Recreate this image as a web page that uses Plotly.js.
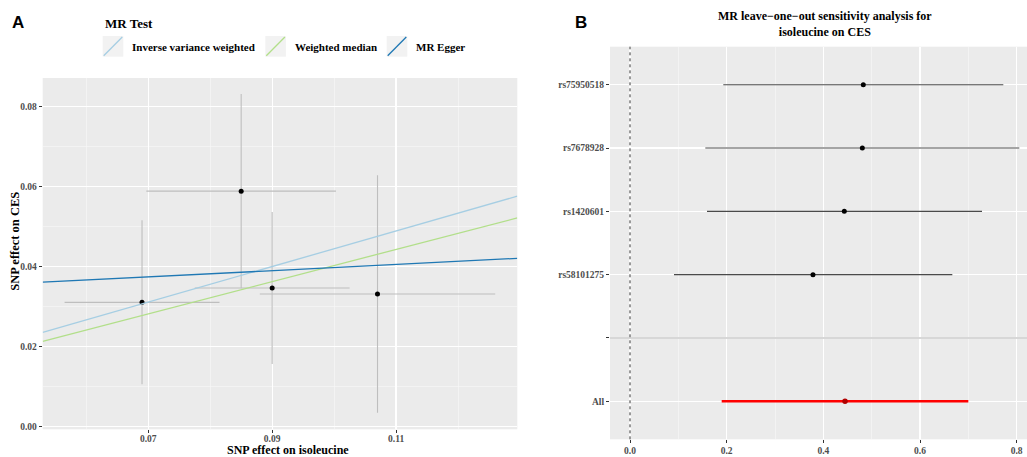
<!DOCTYPE html>
<html>
<head>
<meta charset="utf-8">
<script src="https://cdn.plot.ly/plotly-3.0.1.min.js"></script>
<style>html,body{margin:0;padding:0;background:#fff}#chart{width:1027px;height:457px}</style>
</head>
<body>
<div id="chart"></div>
<script>
// ---------- Panel A data: SNP effects ----------
const snpX   = [0.0690, 0.0850, 0.0900, 0.1070];   // SNP effect on isoleucine
const snpXse = [0.0125, 0.0153, 0.0125, 0.0190];
const snpY   = [0.0311, 0.0589, 0.0347, 0.0332];   // SNP effect on CES
const snpYse = [0.0205, 0.0243, 0.0190, 0.0297];

const methods         = ['Inverse variance weighted', 'Weighted median', 'MR Egger'];
const methodSlope     = [0.445, 0.403, 0.078];
const methodIntercept = [0, 0, 0.032];
const methodColors    = ['#A6CEE3', '#B2DF8A', '#1F78B4'];

// ---------- Panel B data: leave-one-out ----------
const looSNPs = ['rs75950518', 'rs7678928', 'rs1420601', 'rs58101275'];
const looB    = [0.4827, 0.4807, 0.4434, 0.3786];
const looLo   = [0.1930, 0.1558, 0.1593, 0.0910];
const looHi   = [0.7724, 0.8055, 0.7283, 0.6669];
const allLabel = 'All';
const allB  = 0.4449;
const allLo = 0.1897;
const allHi = 0.7000;
const rowLabels = looSNPs.concat(['', allLabel]);

// ---------- helpers ----------
const W = 1027, H = 457;
const px = v => v / W;
const py = v => 1 - v / H;
const SERIF = 'Liberation Serif, Times New Roman, serif';
const tickFont = {family: SERIF, size: 9.5, color: '#4D4D4D', weight: 'bold'};

const xRangeA = [0.05297, 0.12956];
const yRangeA = [-0.00065, 0.0872];

const traces = [];

// Panel A: error bars + points
traces.push({
  type: 'scatter', mode: 'markers', xaxis: 'x', yaxis: 'y',
  x: snpX, y: snpY,
  marker: {color: '#000000', size: 5},
  error_x: {type: 'data', array: snpXse, symmetric: true, color: '#BEBEBE', thickness: 1.1, width: 0},
  error_y: {type: 'data', array: snpYse, symmetric: true, color: '#BEBEBE', thickness: 1.1, width: 0},
  showlegend: false, hoverinfo: 'skip'
});

// Panel A: method regression lines (abline across panel)
methods.forEach((m, i) => {
  traces.push({
    type: 'scatter', mode: 'lines', xaxis: 'x', yaxis: 'y',
    name: m,
    x: xRangeA,
    y: xRangeA.map(xv => methodIntercept[i] + methodSlope[i] * xv),
    line: {color: methodColors[i], width: 1.3},
    showlegend: false, hoverinfo: 'skip'
  });
});

// Panel B: SNP rows
const snpRowIdx = looSNPs.map(s => rowLabels.indexOf(s) + 1);
traces.push({
  type: 'scatter', mode: 'markers', xaxis: 'x2', yaxis: 'y2',
  x: looB, y: snpRowIdx,
  marker: {color: '#000000', size: 5},
  error_x: {type: 'data', symmetric: false,
            array: looHi.map((h, i) => h - looB[i]),
            arrayminus: looB.map((b, i) => b - looLo[i]),
            color: '#4A4A4A', thickness: 1.1, width: 0},
  showlegend: false, hoverinfo: 'skip'
});
// Panel B: All row
traces.push({
  type: 'scatter', mode: 'markers', xaxis: 'x2', yaxis: 'y2',
  x: [allB], y: [rowLabels.indexOf(allLabel) + 1],
  marker: {color: '#B00000', size: 5.5},
  error_x: {type: 'data', symmetric: false, array: [allHi - allB], arrayminus: [allB - allLo],
            color: '#FF0000', thickness: 2.6, width: 0},
  showlegend: false, hoverinfo: 'skip'
});

const gridMajor = '#FFFFFF', gridMinor = '#F7F7F7';
const commonAxis = {
  showline: false, zeroline: false, ticks: 'outside', ticklen: 3, tickwidth: 1,
  tickcolor: '#333333', tickfont: tickFont, gridcolor: gridMajor, gridwidth: 1.3,
  automargin: false, fixedrange: true
};

const shapes = [];
const annotations = [];

// Panel B: dotted vline at 0 and grey hline at blank row
shapes.push({type: 'line', xref: 'x2', yref: 'y2 domain', x0: 0, x1: 0, y0: 0, y1: 1,
             line: {color: '#333333', width: 1, dash: 'dot'}, layer: 'above'});
const blankIdx = rowLabels.indexOf('') + 1;
shapes.push({type: 'line', xref: 'x2 domain', yref: 'y2', x0: 0, x1: 1, y0: blankIdx, y1: blankIdx,
             line: {color: '#B0B0B0', width: 1.2}, layer: 'above'});

// Custom legend for panel A
const keyX = [102.7, 265.3, 386.7];
const labX = [130, 293.3, 414.3];
const keyTop = 36, keyBot = 56.7, keyW = 20.6;
methods.forEach((m, i) => {
  shapes.push({type: 'rect', xref: 'paper', yref: 'paper',
               x0: px(keyX[i]), x1: px(keyX[i] + keyW), y0: py(keyBot), y1: py(keyTop),
               fillcolor: '#F2F2F2', line: {width: 0}});
  shapes.push({type: 'line', xref: 'paper', yref: 'paper',
               x0: px(keyX[i] + 1), x1: px(keyX[i] + keyW - 1), y0: py(keyBot - 1), y1: py(keyTop + 1),
               line: {color: methodColors[i], width: 1.3}});
  annotations.push({xref: 'paper', yref: 'paper', x: px(labX[i]), y: py(46.5),
                    xanchor: 'left', yanchor: 'middle', showarrow: false, text: m,
                    font: {family: SERIF, size: 11, color: '#000000', weight: 'bold'}});
});
annotations.push({xref: 'paper', yref: 'paper', x: px(102.7), y: py(23.3), xanchor: 'left', yanchor: 'middle',
                  showarrow: false, text: 'MR Test',
                  font: {family: SERIF, size: 13, color: '#000000', weight: 'bold'}});

// Panel letters
annotations.push({xref: 'paper', yref: 'paper', x: px(17.8), y: py(22.7), xanchor: 'center', yanchor: 'middle',
                  showarrow: false, text: 'A',
                  font: {family: 'Liberation Sans, Arial, sans-serif', size: 17, color: '#000000', weight: 'bold'}});
annotations.push({xref: 'paper', yref: 'paper', x: px(581), y: py(22.5), xanchor: 'center', yanchor: 'middle',
                  showarrow: false, text: 'B',
                  font: {family: 'Liberation Sans, Arial, sans-serif', size: 17, color: '#000000', weight: 'bold'}});

// Axis titles panel A
annotations.push({xref: 'paper', yref: 'paper', x: px(288), y: py(450), xanchor: 'center', yanchor: 'middle',
                  showarrow: false, text: 'SNP effect on isoleucine',
                  font: {family: SERIF, size: 12, color: '#000000', weight: 'bold'}});
annotations.push({xref: 'paper', yref: 'paper', x: px(14.7), y: py(241), xanchor: 'center', yanchor: 'middle',
                  showarrow: false, text: 'SNP effect on CES', textangle: -90,
                  font: {family: SERIF, size: 12.5, color: '#000000', weight: 'bold'}});

// Panel B title
annotations.push({xref: 'paper', yref: 'paper', x: px(825), y: py(24), xanchor: 'center', yanchor: 'middle',
                  showarrow: false, align: 'center',
                  text: 'MR leave\u2212one\u2212out sensitivity analysis for<br>isoleucine on CES',
                  font: {family: SERIF, size: 12, color: '#000000', weight: 'bold'}});

const layout = {
  width: W, height: H,
  margin: {l: 0, r: 0, t: 0, b: 0, pad: 0},
  paper_bgcolor: '#FFFFFF',
  plot_bgcolor: '#EBEBEB',
  showlegend: false,
  xaxis: Object.assign({}, commonAxis, {
    domain: [px(42.7), px(517.3)], anchor: 'y', range: xRangeA,
    tick0: 0.07, dtick: 0.02, tickformat: '.2f', ticklabelstandoff: -3,
    minor: {dtick: 0.01, tick0: 0.06, showgrid: true, gridcolor: gridMinor, gridwidth: 0.7}
  }),
  yaxis: Object.assign({}, commonAxis, {
    domain: [py(429.3), py(78)], anchor: 'x', range: yRangeA,
    tick0: 0, dtick: 0.02, tickformat: '.2f',
    minor: {dtick: 0.01, tick0: 0, showgrid: true, gridcolor: gridMinor, gridwidth: 0.7}
  }),
  xaxis2: Object.assign({}, commonAxis, {
    domain: [px(610), 1], anchor: 'y2', range: [-0.0414, 0.8214],
    tick0: 0, dtick: 0.2, tickformat: '.1f', ticklabelstandoff: -1,
    minor: {dtick: 0.1, tick0: 0, showgrid: true, gridcolor: gridMinor, gridwidth: 0.7}
  }),
  yaxis2: Object.assign({}, commonAxis, {
    domain: [py(439.3), py(46.7)], anchor: 'x2', range: [rowLabels.length + 0.6, 0.4],
    tickmode: 'array', tickvals: rowLabels.map((_, i) => i + 1), ticktext: rowLabels
  }),
  shapes: shapes,
  annotations: annotations
};

Plotly.newPlot('chart', traces, layout, {displayModeBar: false, staticPlot: true});
</script>
</body>
</html>
